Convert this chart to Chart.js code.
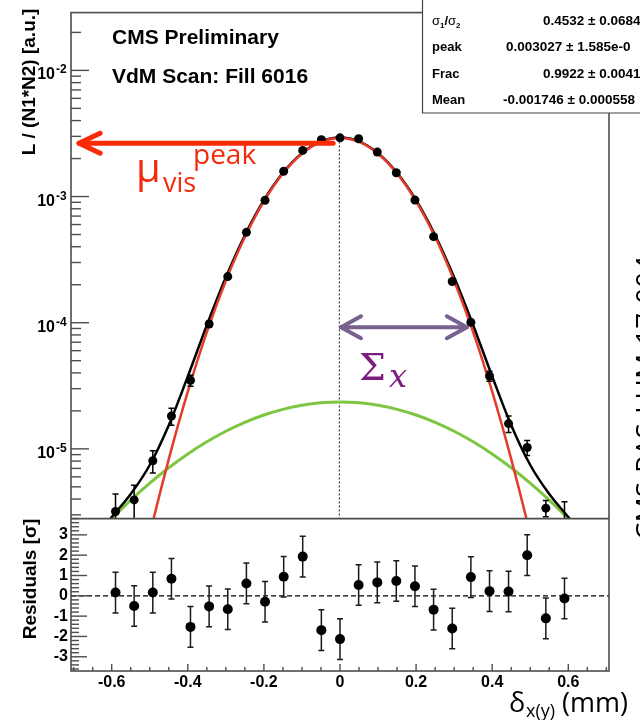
<!DOCTYPE html>
<html>
<head>
<meta charset="utf-8">
<script src="https://cdn.jsdelivr.net/npm/chart.js@4.4.1/dist/chart.umd.min.js"></script>
<style>
  html, body { margin: 0; padding: 0; background: #fff; }
  canvas { display: block; }
</style>
</head>
<body>
<canvas id="vdm" width="640" height="720"></canvas>
<script>
// scan steps: beam separation (mm)
const sepPoints = [-0.590, -0.541, -0.492, -0.443, -0.393, -0.344, -0.295, -0.246, -0.197, -0.148, -0.098, -0.049, 0.000,
                   0.049, 0.098, 0.148, 0.197, 0.246, 0.295, 0.344, 0.393, 0.443, 0.492, 0.541, 0.590];
// normalised luminosity per step and its uncertainty
const lumiPoints = [3.19e-6, 3.94e-6, 8.05e-6, 1.82e-5, 3.49e-5, 9.77e-5, 2.32e-4, 5.20e-4, 9.33e-4, 1.585e-3, 2.32e-3, 2.82e-3, 2.92e-3,
                    2.87e-3, 2.25e-3, 1.545e-3, 9.37e-4, 4.81e-4, 2.12e-4, 1.007e-4, 3.78e-5, 1.585e-5, 1.025e-5, 3.39e-6, 2.3e-6];
const lumiErrors = [1.2e-6, 1.2e-6, 1.6e-6, 2.8e-6, 3.5e-6, 5e-6, 8e-6, 1.2e-5, 1.7e-5, 2.2e-5, 2.6e-5, 2.9e-5, 3.0e-5,
                    3.0e-5, 2.6e-5, 2.2e-5, 1.7e-5, 1.2e-5, 8e-6, 5e-6, 3.5e-6, 2.4e-6, 1.4e-6, 0.5e-6, 1.5e-6];
// pulls with respect to the double gaussian fit
const residPoints = [0.16, -0.50, 0.16, 0.84, -1.53, -0.52, -0.66, 0.61, -0.29, 0.94, 1.93, -1.69, -2.13,
                     0.53, 0.66, 0.73, 0.47, -0.68, -1.61, 0.92, 0.23, 0.21, 2.00, -1.11, -0.13];
const residErrors = [1, 1, 1, 1, 1, 1, 1, 1, 1, 1, 1, 1, 1, 1, 1, 1, 1, 1, 1, 1, 1, 1, 1, 1, 1];

// fit curves sampled along the separation
const fitSep = [-0.62, -0.60, -0.55, -0.50, -0.45, -0.40, -0.35, -0.30, -0.25, -0.20, -0.15, -0.10, -0.05, 0.00,
                0.05, 0.10, 0.15, 0.20, 0.25, 0.30, 0.35, 0.40, 0.45, 0.50, 0.55, 0.60, 0.62];
const fitTotal = [2.43e-6, 2.88e-6, 4.38e-6, 7.45e-6, 1.54e-5, 3.75e-5, 9.55e-5, 2.29e-4, 4.94e-4, 9.35e-4, 1.542e-3, 2.206e-3, 2.737e-3, 2.94e-3,
                  2.737e-3, 2.206e-3, 1.542e-3, 9.35e-4, 4.94e-4, 2.29e-4, 9.55e-5, 3.75e-5, 1.54e-5, 7.45e-6, 4.38e-6, 2.88e-6, 2.43e-6];
const fitNarrow = [4.3e-8, 8.6e-8, 4.6e-7, 2.10e-6, 8.30e-6, 2.84e-5, 8.41e-5, 2.153e-4, 4.776e-4, 9.16e-4, 1.521e-3, 2.184e-3, 2.714e-3, 2.917e-3,
                   2.714e-3, 2.184e-3, 1.521e-3, 9.16e-4, 4.776e-4, 2.153e-4, 8.41e-5, 2.84e-5, 8.30e-6, 2.10e-6, 4.6e-7, 8.6e-8, 4.3e-8];
const fitWide = [2.42e-6, 2.79e-6, 3.92e-6, 5.35e-6, 7.09e-6, 9.12e-6, 1.137e-5, 1.379e-5, 1.623e-5, 1.854e-5, 2.056e-5, 2.214e-5, 2.315e-5, 2.35e-5,
                 2.315e-5, 2.214e-5, 2.056e-5, 1.854e-5, 1.623e-5, 1.379e-5, 1.137e-5, 9.12e-6, 7.09e-6, 5.35e-6, 3.92e-6, 2.79e-6, 2.42e-6];

const sepTicks = [-0.6, -0.4, -0.2, 0, 0.2, 0.4, 0.6];
const residTicks = [-3, -2, -1, 0, 1, 2, 3];
const decadeTicks = [-5, -4, -3, -2];

// fit results box
const fitNames = ['σ_1/σ_2', 'peak', 'Frac', 'Mean'];
const fitValues = ['0.4532 ± 0.0684', '0.003027 ± 1.585e-0', '0.9922 ± 0.00412', '-0.001746 ± 0.000558'];
const fitMean = -0.001746;

// annotation anchors in data units
const peakArrow = { from: -0.018, to: -0.691, y: 2.65e-3 };
const widthArrow = { from: 0.0, to: 0.336, y: 9.2e-5 };

const HELV = '"Liberation Sans", Arial, sans-serif';
const SANS = '"Open Sans", "Noto Sans", sans-serif';
const SERIF = '"DejaVu Serif", "Liberation Serif", serif';

const xy = (xs, ys) => xs.map((v, i) => ({ x: v, y: ys[i] }));

function seg(ctx, x1, y1, x2, y2) {
    ctx.beginPath(); ctx.moveTo(x1, y1); ctx.lineTo(x2, y2); ctx.stroke();
}

function text(ctx, s, x, y, font, color, align) {
    ctx.font = font; ctx.fillStyle = color; ctx.textAlign = align || 'left'; ctx.textBaseline = 'alphabetic';
    ctx.fillText(s, x, y);
    return ctx.measureText(s).width;
}

// label with "_c" subscripts
function richLabel(ctx, s, x, y, size) {
    let cx = x;
    for (let i = 0; i < s.length; i++) {
        if (s[i] === '_') {
            cx += text(ctx, s[i + 1], cx, y + 3, 'bold ' + Math.round(size * 0.65) + 'px ' + HELV, '#000');
            i++;
        } else if (s[i] === 'σ') {
            cx += text(ctx, s[i], cx, y, size + 'px ' + HELV, '#000');
        } else {
            cx += text(ctx, s[i], cx, y, 'bold ' + size + 'px ' + HELV, '#000');
        }
    }
}

function chevronArrow(ctx, x1, x2, y, head, both) {
    seg(ctx, x1, y, x2, y);
    const d = Math.sign(x1 - x2);
    ctx.beginPath();
    ctx.moveTo(x2 + d * head[0], y - head[1]); ctx.lineTo(x2, y); ctx.lineTo(x2 + d * head[0], y + head[1]);
    ctx.stroke();
    if (both) {
        ctx.beginPath();
        ctx.moveTo(x1 - d * head[0], y - head[1]); ctx.lineTo(x1, y); ctx.lineTo(x1 - d * head[0], y + head[1]);
        ctx.stroke();
    }
}

const panels = {
    id: 'panels',
    beforeDraw(chart) {
        const ctx = chart.ctx;
        ctx.save(); ctx.fillStyle = '#fff'; ctx.fillRect(0, 0, chart.width, chart.height); ctx.restore();
    },
    beforeDatasetsDraw(chart) {
        const { ctx, chartArea: a, scales: { x, y, res } } = chart;
        ctx.save();
        ctx.strokeStyle = '#000'; ctx.lineWidth = 1.2; ctx.setLineDash([5, 3]);
        const y0 = res.getPixelForValue(0);
        seg(ctx, a.left, y0, a.right, y0);
        ctx.setLineDash([2, 2]); ctx.lineWidth = 1; ctx.strokeStyle = '#222';
        const xm = x.getPixelForValue(fitMean);
        seg(ctx, xm, y.getPixelForValue(Math.max(...fitTotal)), xm, y.bottom);
        ctx.restore();
    },
    beforeDatasetDraw(chart, args) {
        const ds = chart.data.datasets[args.index];
        if (!ds.errors) return;
        const ctx = chart.ctx;
        const { xScale, yScale } = args.meta;
        ctx.save();
        ctx.beginPath(); ctx.rect(xScale.left, yScale.top, xScale.width, yScale.bottom - yScale.top); ctx.clip();
        ctx.strokeStyle = ds.errorColor; ctx.lineWidth = 1.5;
        ds.data.forEach((p, i) => {
            const e = ds.errors[i];
            const px = xScale.getPixelForValue(p.x);
            const lo = p.y - e;
            const yTop = yScale.getPixelForValue(p.y + e);
            const yBot = (yScale.type === 'logarithmic' && lo <= 0) ? yScale.bottom + 20 : yScale.getPixelForValue(lo);
            seg(ctx, px, yTop, px, yBot);
            seg(ctx, px - 3, yTop, px + 3, yTop);
            seg(ctx, px - 3, yBot, px + 3, yBot);
        });
        ctx.restore();
    },
    afterDraw(chart) {
        const { ctx, chartArea: a, scales: { x, y, res } } = chart;
        ctx.save();

        // frame and panel separator
        ctx.strokeStyle = '#4d4d4d'; ctx.lineWidth = 1.6;
        ctx.strokeRect(a.left, a.top, a.right - a.left, a.bottom - a.top);
        seg(ctx, a.left, y.bottom, a.right, y.bottom);

        // log axis ticks (inward)
        ctx.lineWidth = 1.4;
        for (let k = -6; k <= -2; k++) {
            for (let m = 1; m <= 9; m++) {
                const v = m * Math.pow(10, k);
                if (v < y.min || v > y.max) continue;
                const py = y.getPixelForValue(v);
                seg(ctx, a.left, py, a.left + (m === 1 ? 18 : 10), py);
            }
        }
        // residual axis ticks
        for (let i = -19; i <= 19; i++) {
            const v = i / 5;
            if (v < res.min || v > res.max) continue;
            const py = res.getPixelForValue(v);
            seg(ctx, a.left, py, a.left + (i % 5 === 0 ? 16 : 8), py);
        }
        // separation axis ticks
        for (let i = -14; i <= 14; i++) {
            const v = i * 0.05;
            if (v < x.min || v > x.max) continue;
            const px = x.getPixelForValue(v);
            seg(ctx, px, a.bottom, px, a.bottom - (i % 4 === 0 ? 7 : 4));
        }

        // decade labels 10^k
        decadeTicks.forEach(k => {
            const py = y.getPixelForValue(Math.pow(10, k));
            text(ctx, '10', 55, py + 9, 'bold 16px ' + HELV, '#000', 'right');
            text(ctx, String(k), 56, py + 3, 'bold 12px ' + HELV, '#000', 'left');
        });

        // axis titles
        ctx.save();
        ctx.translate(27.5, 82);
        ctx.rotate(-Math.PI / 2);
        text(ctx, 'L / (N1*N2) [a.u.]', 0, 7, 'bold 19px ' + HELV, '#000', 'center');
        ctx.restore();
        ctx.save();
        ctx.translate(28.7, 579);
        ctx.rotate(-Math.PI / 2);
        text(ctx, 'Residuals [σ]', 0, 7, 'bold 19px ' + HELV, '#000', 'center');
        ctx.restore();

        // header
        text(ctx, 'CMS Preliminary', 112, 44, 'bold 21px ' + HELV, '#000');
        text(ctx, 'VdM Scan: Fill 6016', 112, 83, 'bold 21px ' + HELV, '#000');

        // peak arrow and label
        ctx.strokeStyle = '#fb2a07'; ctx.lineWidth = 5; ctx.lineCap = 'round'; ctx.lineJoin = 'round';
        const ay = y.getPixelForValue(peakArrow.y);
        chevronArrow(ctx, x.getPixelForValue(peakArrow.from), x.getPixelForValue(peakArrow.to) + 2, ay, [21, 10], false);
        text(ctx, 'μ', 136, 182, '40px ' + SANS, '#f42a0c');
        text(ctx, 'vis', 163, 192, '27px ' + SANS, '#f42a0c');
        text(ctx, 'peak', 193, 164, '28px ' + SANS, '#f42a0c');

        // width arrow and label
        ctx.strokeStyle = '#77618f'; ctx.lineWidth = 4;
        const wy = y.getPixelForValue(widthArrow.y);
        chevronArrow(ctx, x.getPixelForValue(widthArrow.from) + 1, x.getPixelForValue(widthArrow.to) - 1, wy, [20, 11], true);
        text(ctx, 'Σ', 359, 380, '38px ' + SERIF, '#7b1c7e');
        text(ctx, 'x', 389, 387, 'italic 32px ' + SERIF, '#7b1c7e');

        // fit results box
        ctx.fillStyle = '#fff'; ctx.fillRect(422, -2, 240, 115);
        ctx.strokeStyle = '#444'; ctx.lineWidth = 1.2; ctx.strokeRect(422.5, -2, 240, 115);
        const rowY = [24.5, 51, 77.5, 104];
        const valX = [543, 506, 543, 503];
        fitNames.forEach((n, i) => {
            richLabel(ctx, n, 432, rowY[i], 13);
            text(ctx, fitValues[i], valX[i], rowY[i], 'bold 13.5px ' + HELV, '#000');
        });

        // document tag on the right edge
        ctx.save();
        ctx.translate(656, 398);
        ctx.rotate(-Math.PI / 2);
        text(ctx, 'CMS-PAS-LUM-17-004', 0, 0, '28px ' + SANS, '#000', 'center');
        ctx.restore();

        // separation axis title
        ctx.fillStyle = '#fff'; ctx.fillRect(555, 688, 85, 32);
        text(ctx, 'δ', 509, 712, '27px ' + SANS, '#000');
        text(ctx, 'x(y)', 526, 717, '18px ' + SANS, '#000');
        text(ctx, '(mm)', 562, 712, '27px ' + SANS, '#000');

        ctx.restore();
    }
};

new Chart(document.getElementById('vdm'), {
    type: 'scatter',
    data: {
        datasets: [
            { data: xy(sepPoints, lumiPoints), errors: lumiErrors, errorColor: '#000', yAxisID: 'y',
              pointRadius: 4.5, pointBackgroundColor: '#000', pointBorderWidth: 0 },
            { data: xy(sepPoints, residPoints), errors: residErrors, errorColor: '#1a1a1a', yAxisID: 'res',
              pointRadius: 5, pointBackgroundColor: '#000', pointBorderWidth: 0 },
            { data: xy(fitSep, fitNarrow), yAxisID: 'y', showLine: true, pointRadius: 0,
              borderColor: '#e53b2c', borderWidth: 2.5, cubicInterpolationMode: 'monotone' },
            { data: xy(fitSep, fitTotal), yAxisID: 'y', showLine: true, pointRadius: 0,
              borderColor: '#000', borderWidth: 2.5, cubicInterpolationMode: 'monotone' },
            { data: xy(fitSep, fitWide), yAxisID: 'y', showLine: true, pointRadius: 0,
              borderColor: '#7dc641', borderWidth: 3, cubicInterpolationMode: 'monotone' }
        ]
    },
    options: {
        responsive: false,
        animation: false,
        devicePixelRatio: 1,
        layout: { padding: { left: 0, right: 31, top: 10, bottom: 0 } },
        plugins: { legend: { display: false }, tooltip: { enabled: false } },
        scales: {
            x: {
                type: 'linear', position: 'bottom', min: -0.707, max: 0.707,
                grid: { display: false, drawTicks: false }, border: { display: false },
                afterBuildTicks: s => { s.ticks = sepTicks.map(v => ({ value: v })); },
                afterFit: s => { s.height = 49; },
                ticks: { padding: 2, color: '#000', font: { family: HELV, size: 16, weight: 'bold' },
                         maxRotation: 0, autoSkip: false, callback: v => String(v) }
            },
            y: {
                type: 'logarithmic', position: 'left', stack: 'panels', stackWeight: 508, weight: 2,
                min: 2.8e-6, max: 0.02871,
                grid: { display: false, drawTicks: false }, border: { display: false },
                ticks: { display: false },
                afterFit: s => { s.width = 71; }
            },
            res: {
                type: 'linear', position: 'left', stack: 'panels', stackWeight: 153, weight: 1,
                min: -3.7, max: 3.8,
                grid: { display: false, drawTicks: false }, border: { display: false },
                afterBuildTicks: s => { s.ticks = residTicks.map(v => ({ value: v })); },
                afterFit: s => { s.width = 71; },
                ticks: { padding: 3, color: '#000', autoSkip: false, font: { family: HELV, size: 16, weight: 'bold' },
                         callback: v => String(v) }
            }
        }
    },
    plugins: [panels]
});
</script>
</body>
</html>
